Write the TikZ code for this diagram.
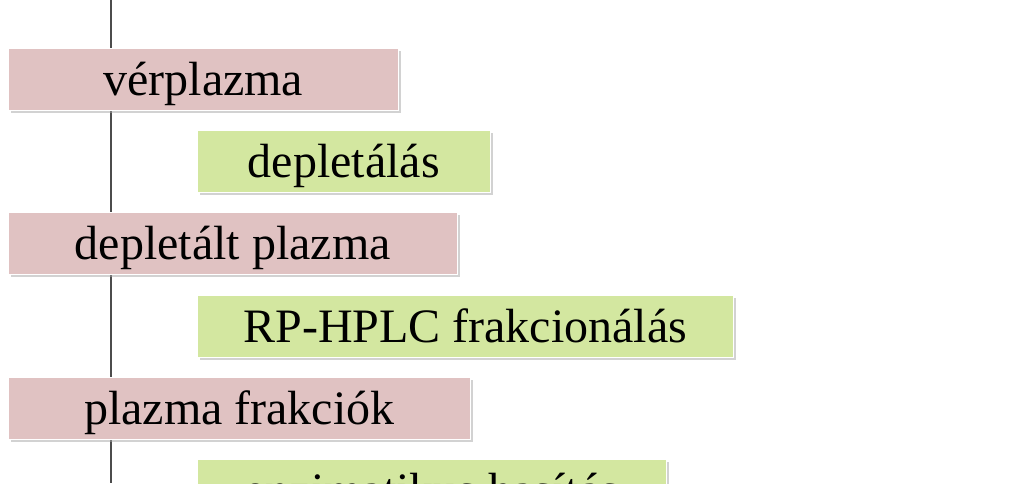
\documentclass[tikz,border=0pt]{standalone}
\usepackage{fontspec}
\setmainfont{Liberation Serif}
\usetikzlibrary{shadows}
\definecolor{samplered}{RGB}{224,194,194}
\definecolor{stepgreen}{RGB}{211,231,160}

\begin{document}
\begin{tikzpicture}[x=1pt,y=1pt,
	sample/.style={anchor=north west, fill=samplered, draw=white, line width=0.6pt,
		minimum height=62pt, inner sep=0pt, font=\fontsize{48}{58}\selectfont,
		text height=35pt, text depth=2pt,
		drop shadow={shadow xshift=3pt, shadow yshift=-3pt, fill=black!35}},
	treatment/.style={sample, fill=stepgreen}
	]
	\clip (0,0) rectangle (1023,483);
	\coordinate (flowtop) at (111,483);
	\coordinate (flowbottom) at (111,0);
	\draw[line width=1.4pt, black!70] (flowtop) -- (flowbottom);

	\node[sample, minimum width=390pt] (plasma) at (8,435) {vérplazma};
	\node[treatment, minimum width=293pt] (deplete) at (197,353) {depletálás};
	\node[sample, minimum width=449pt] (depleted) at (8,271) {depletált plazma};
	\node[treatment, minimum width=536pt] (hplc) at (197,188) {RP-HPLC frakcionálás};
	\node[sample, minimum width=462pt] (fractions) at (8,106) {plazma frakciók};
	\node[treatment, minimum width=469pt] (digest) at (197,24) {enzimatikus hasítás};
\end{tikzpicture}
\end{document}
